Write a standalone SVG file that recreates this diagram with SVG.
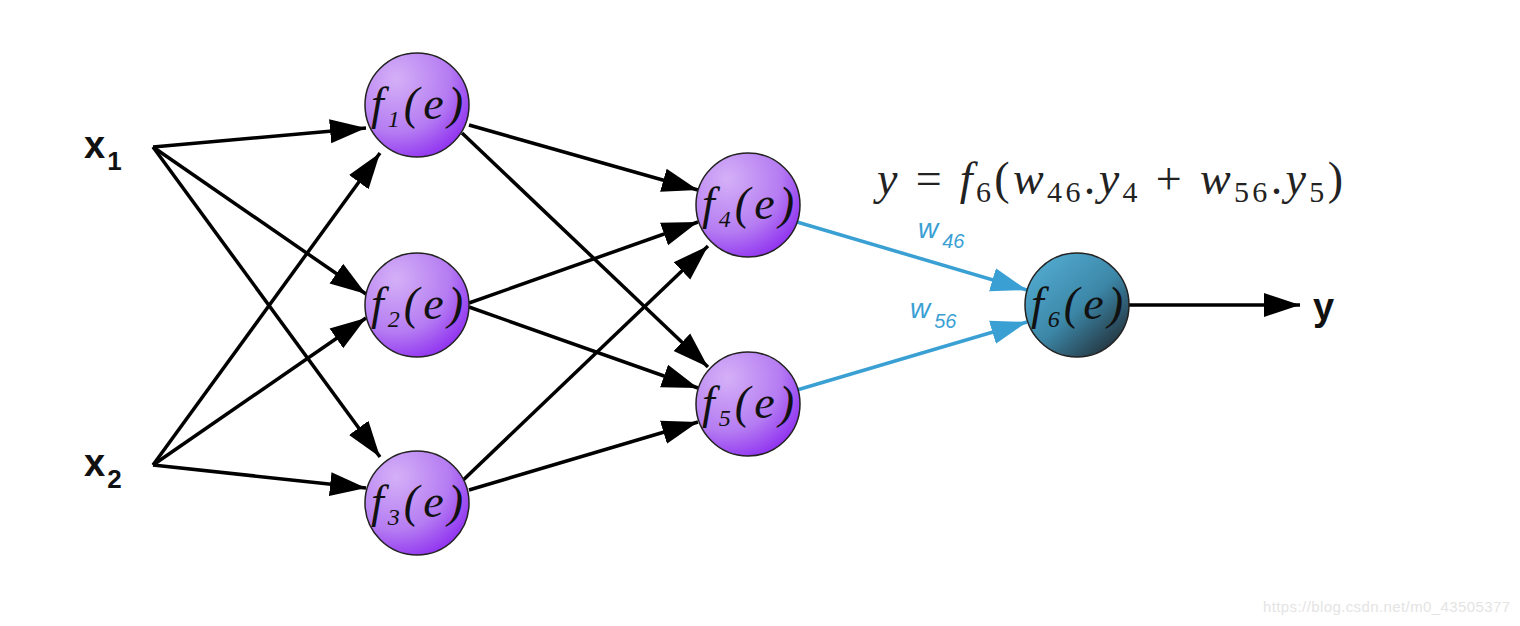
<svg xmlns="http://www.w3.org/2000/svg" width="1520" height="626" viewBox="0 0 1520 626">
<defs>
<radialGradient id="gp" cx="0.3" cy="0.25" r="0.85">
<stop offset="0" stop-color="#d4b0f7"/>
<stop offset="0.6" stop-color="#b57cf2"/>
<stop offset="1" stop-color="#8d2cf0"/>
</radialGradient>
<linearGradient id="gb" x1="0.2" y1="0.1" x2="0.9" y2="0.9">
<stop offset="0" stop-color="#4fa6cb"/>
<stop offset="0.5" stop-color="#3c87a8"/>
<stop offset="1" stop-color="#23323b"/>
</linearGradient>
<marker id="ak" markerUnits="userSpaceOnUse" markerWidth="38" markerHeight="28" refX="36" refY="14" orient="auto">
<path d="M0,2 L36,14 L0,26 Z" fill="#000"/>
</marker>
<marker id="ab" markerUnits="userSpaceOnUse" markerWidth="38" markerHeight="28" refX="36" refY="14" orient="auto">
<path d="M0,2 L36,14 L0,26 Z" fill="#3aa0d4"/>
</marker>
</defs>
<style>
.c{stroke:#000;stroke-width:3.5;fill:none;marker-end:url(#ak)}
.cb{stroke:#3aa0d4;stroke-width:3.5;fill:none;marker-end:url(#ab)}
.n{stroke:#222;stroke-width:1.5}
.fl{font-family:"Liberation Serif",serif;font-style:italic;font-size:46px;fill:#111}
.sub{font-size:24px}
.in{font-family:"Liberation Sans",sans-serif;font-weight:bold;font-size:38px;fill:#111}
.w{font-family:"Liberation Sans",sans-serif;font-style:italic;font-size:28px;fill:#3aa0d4}
.eq{font-family:"Liberation Serif",serif;font-size:46px;fill:#222}
</style>
<rect width="1520" height="626" fill="#fff"/>
<g id="connectors">
<line class="c" x1="153" y1="147" x2="366" y2="128"/>
<line class="c" x1="153" y1="147" x2="366" y2="294"/>
<line class="c" x1="153" y1="147" x2="380" y2="457"/>
<line class="c" x1="153" y1="465" x2="380" y2="153"/>
<line class="c" x1="153" y1="465" x2="366" y2="318"/>
<line class="c" x1="153" y1="465" x2="366" y2="488"/>
<line class="c" x1="469" y1="125" x2="698" y2="190"/>
<line class="c" x1="462" y1="133" x2="708" y2="367"/>
<line class="c" x1="469" y1="303" x2="698" y2="222"/>
<line class="c" x1="469" y1="307" x2="698" y2="388"/>
<line class="c" x1="458" y1="485" x2="708" y2="246"/>
<line class="c" x1="469" y1="490" x2="698" y2="422"/>
<line class="cb" x1="797" y1="222" x2="1027" y2="290"/>
<line class="cb" x1="797" y1="390" x2="1027" y2="322"/>
<line class="c" x1="1129" y1="305" x2="1300" y2="305"/>
</g>
<g id="x1"><text class="in" x="84" y="158">x<tspan font-size="26" dy="12" dx="2">1</tspan></text></g>
<g id="x2"><text class="in" x="84" y="476">x<tspan font-size="26" dy="12" dx="2">2</tspan></text></g>
<g id="f1"><circle class="n" cx="417" cy="105" r="52" fill="url(#gp)"/><text class="fl" x="371" y="119" textLength="92">f<tspan class="sub" dy="8">1</tspan><tspan dy="-8">(e)</tspan></text></g>
<g id="f2"><circle class="n" cx="417" cy="305" r="52" fill="url(#gp)"/><text class="fl" x="371" y="319" textLength="92">f<tspan class="sub" dy="8">2</tspan><tspan dy="-8">(e)</tspan></text></g>
<g id="f3"><circle class="n" cx="417" cy="503" r="52" fill="url(#gp)"/><text class="fl" x="371" y="517" textLength="92">f<tspan class="sub" dy="8">3</tspan><tspan dy="-8">(e)</tspan></text></g>
<g id="f4"><circle class="n" cx="748" cy="205" r="52" fill="url(#gp)"/><text class="fl" x="702" y="219" textLength="92">f<tspan class="sub" dy="8">4</tspan><tspan dy="-8">(e)</tspan></text></g>
<g id="f5"><circle class="n" cx="748" cy="404" r="52" fill="url(#gp)"/><text class="fl" x="702" y="418" textLength="92">f<tspan class="sub" dy="8">5</tspan><tspan dy="-8">(e)</tspan></text></g>
<g id="f6"><circle class="n" cx="1077" cy="305" r="52" fill="url(#gb)"/><text class="fl" x="1031" y="319" textLength="92">f<tspan class="sub" dy="8">6</tspan><tspan dy="-8">(e)</tspan></text></g>
<g id="y"><text class="in" x="1313" y="320">y</text></g>
<g id="labels">
<text class="w" x="918" y="238">w<tspan font-size="20" dy="10" dx="4">46</tspan></text>
<text class="w" x="910" y="318">w<tspan font-size="20" dy="10" dx="4">56</tspan></text>
<text class="eq" x="877" y="194" textLength="466" lengthAdjust="spacing"><tspan font-style="italic">y</tspan> = <tspan font-style="italic">f</tspan><tspan font-size="30" dy="8">6</tspan><tspan dy="-8">(</tspan><tspan font-style="italic">w</tspan><tspan font-size="30" dy="8">46</tspan><tspan dy="-8">.</tspan><tspan font-style="italic">y</tspan><tspan font-size="30" dy="8">4</tspan><tspan dy="-8"> + </tspan><tspan font-style="italic">w</tspan><tspan font-size="30" dy="8">56</tspan><tspan dy="-8">.</tspan><tspan font-style="italic">y</tspan><tspan font-size="30" dy="8">5</tspan><tspan dy="-8">)</tspan></text>
<text x="1263" y="612" font-family="Liberation Sans,sans-serif" font-size="15" fill="#e4e4e4" textLength="247">https://blog.csdn.net/m0_43505377</text>
</g>
</svg>
